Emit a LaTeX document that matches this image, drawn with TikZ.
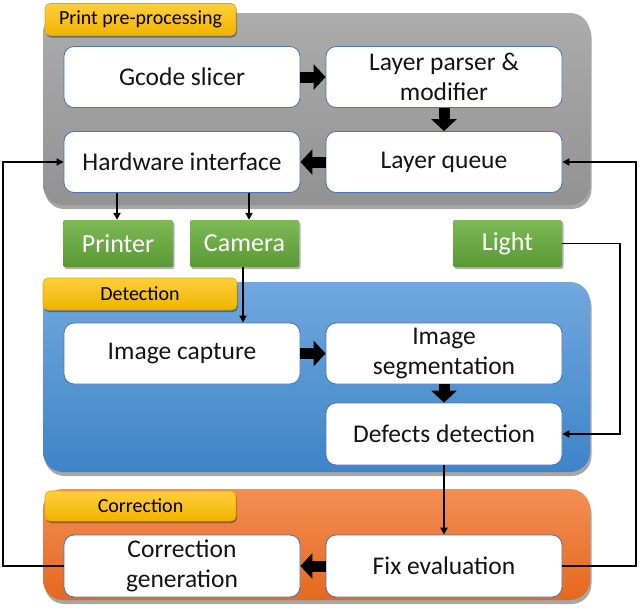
\documentclass[tikz,border=0pt]{standalone}
\usepackage{fontspec}
\setmainfont{Carlito}
\usetikzlibrary{arrows.meta,shadows,calc}
\definecolor{txt}{HTML}{141414}
\definecolor{bordblue}{HTML}{4A74B8}
\tikzset{
  grp/.style={rounded corners=20pt, minimum width=547pt, inner sep=0pt,
    drop shadow={shadow xshift=1.5pt, shadow yshift=-4pt, opacity=0.35, fill=black}},
  graygrp/.style={grp, top color={rgb,255:red,172;green,172;blue,172}, bottom color={rgb,255:red,146;green,146;blue,146}, minimum height=192pt},
  bluegrp/.style={grp, top color={rgb,255:red,112;green,168;blue,222}, bottom color={rgb,255:red,62;green,132;blue,200}, minimum height=190pt},
  orangegrp/.style={grp, top color={rgb,255:red,243;green,142;blue,84}, bottom color={rgb,255:red,229;green,104;blue,30}, minimum height=111pt},
  lbl/.style={rounded corners=5pt, minimum width=191pt, minimum height=32pt, inner sep=0pt,
    top color={rgb,255:red,255;green,206;blue,60}, bottom color={rgb,255:red,240;green,180;blue,0},
    draw={rgb,255:red,225;green,170;blue,0}, line width=0.6pt,
    drop shadow={shadow xshift=1pt, shadow yshift=-2pt, opacity=0.35, fill=black},
    font=\fontsize{20}{24}\selectfont, text=black},
  wbox/.style={rounded corners=10pt, fill=white, draw=bordblue, line width=0.8pt,
    minimum width=236pt, minimum height=61pt, inner sep=0pt, align=center,
    font=\fontsize{25.5}{30}\selectfont, text=txt},
  gbox/.style={rounded corners=2pt, minimum width=110pt, minimum height=47pt, inner sep=0pt,
    top color={rgb,255:red,124;green,186;blue,84}, bottom color={rgb,255:red,90;green,152;blue,54},
    drop shadow={shadow xshift=1.5pt, shadow yshift=-2pt, opacity=0.3, fill=black},
    font=\fontsize{26}{30}\selectfont, text=white},
  fat/.style={line width=11pt, -{Triangle[length=12pt,width=25pt]}, black},
  thin/.style={line width=1.9pt, -{Triangle[length=7pt,width=7pt]}, black},
}
\begin{document}
\begin{tikzpicture}[x=1pt,y=-1pt]
\useasboundingbox (0,0) rectangle (640,613);
% groups
\node[graygrp] (G1) at (316.5,109) {};
\node[bluegrp] (G2) at (316.5,377) {};
\node[orangegrp] (G3) at (316.5,544.5) {};
% labels
\node[lbl] (L1) at (140.5,19.5) {Print pre-processing};
\node[lbl, minimum width=194pt] (L2) at (140,294) {Detection};
\node[lbl, minimum height=30pt] (L3) at (140.5,506) {Correction};
% boxes
\node[wbox] (GS) at (182,77) {Gcode slicer};
\node[wbox] (LP) at (444,77) {Layer parser \&\\modifier};
\node[wbox] (HW) at (182,162) {Hardware interface};
\node[wbox] (LQ) at (444,162) {Layer queue};
\node[gbox] (PR) at (118,243.5) {Printer};
\node[gbox, minimum width=109pt] (CA) at (244.5,243.5) {Camera};
\node[gbox, minimum width=109pt] (LI) at (507.5,243.5) {Light};
\node[wbox] (IC) at (182,353.5) {Image capture};
\node[wbox] (IS) at (444,353.5) {Image\\segmentation};
\node[wbox, minimum height=62pt] (DD) at (444,434) {Defects detection};
\node[wbox, minimum height=62pt] (CG) at (182,566) {Correction\\generation};
\node[wbox, minimum height=62pt] (FE) at (444,566) {Fix evaluation};
% fat arrows
\draw[fat] (GS.east) -- (LP.west);
\draw[fat] (LP.south) -- (LQ.north);
\draw[fat] (LQ.west) -- (HW.east);
\draw[fat] (IC.east) -- (IS.west);
\draw[fat] (IS.south) -- (DD.north);
\draw[fat] (FE.west) -- (CG.east);
% thin connectors
\coordinate (ll) at (3,0);
\coordinate (lr) at (620,0);
\coordinate (rr) at (636,0);
\draw[thin] ([xshift=-1pt]PR.north |- HW.south) -- ([xshift=-1pt]PR.north);
\draw[thin] ([xshift=4.5pt]CA.north |- HW.south) -- ([xshift=4.5pt]CA.north);
\draw[thin] ([xshift=-1.5pt]CA.south) -- ([xshift=-1.5pt]CA.south |- IC.north);
\draw[thin] (LI.east) -- (LI.east -| lr) |- (DD.east);
\draw[thin] (DD.south) -- (FE.north);
\draw[thin] (FE.east) -- (FE.east -| rr) |- (LQ.east);
\draw[thin] (CG.west) -- (CG.west -| ll) |- (HW.west);
\end{tikzpicture}
\end{document}
